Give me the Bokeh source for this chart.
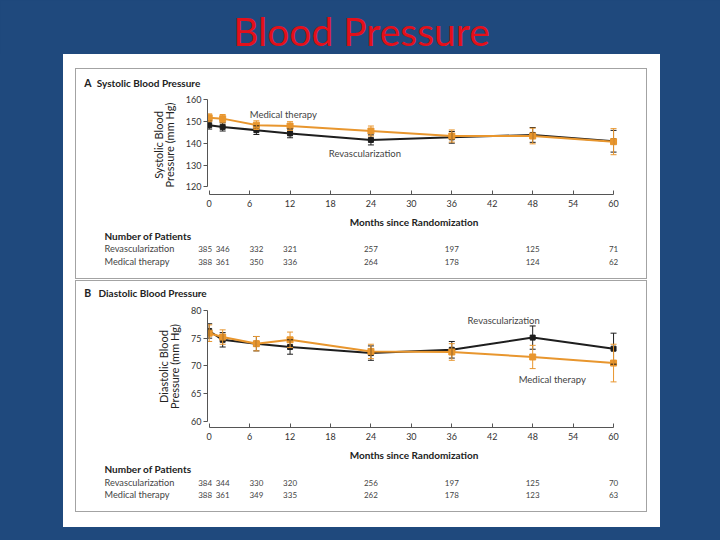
from bokeh.plotting import figure
from bokeh.models import Range1d, FixedTicker, Whisker, TeeHead, ColumnDataSource, Label
from bokeh.core.properties import value
from bokeh.layouts import column
from bokeh.embed import file_html
from bokeh.resources import INLINE

# ---------------- data ----------------
months = [0, 2, 7, 12, 24, 36, 48, 60]
x_ticks = [0, 6, 12, 18, 24, 30, 36, 42, 48, 54, 60]

sys_revasc = [148.4, 147.6, 146.1, 144.6, 141.6, 142.8, 143.9, 141.0]
sys_revasc_ci = [1.8, 1.9, 2.0, 2.0, 2.3, 2.7, 3.4, 5.0]
sys_medical = [151.8, 151.4, 148.4, 148.0, 145.7, 143.4, 143.4, 140.8]
sys_medical_ci = [1.8, 1.9, 2.0, 2.0, 2.3, 2.8, 3.6, 6.0]

dia_revasc = [76.3, 74.7, 74.0, 73.4, 72.3, 72.9, 75.1, 73.1]
dia_revasc_ci = [1.3, 1.3, 1.3, 1.3, 1.3, 1.5, 2.1, 2.8]
dia_medical = [75.9, 75.2, 74.0, 74.7, 72.6, 72.5, 71.6, 70.5]
dia_medical_ci = [1.5, 1.3, 1.3, 1.4, 1.3, 1.5, 2.1, 3.4]

sys_n_revasc = [385, 346, 332, 321, 257, 197, 125, 71]
sys_n_medical = [388, 361, 350, 336, 264, 178, 124, 62]
dia_n_revasc = [384, 344, 330, 320, 256, 197, 125, 70]
dia_n_medical = [388, 361, 349, 335, 262, 178, 123, 63]

sys_ticks = [120, 130, 140, 150, 160]
dia_ticks = [60, 65, 70, 75, 80]

# ---------------- style ----------------
BLUE = "#1f497d"
RED = "#e3101a"
ORANGE = "#e8962e"
BLACK = "#1e1e1e"
GRAY_BOX = "#a3a3a3"
TXT = "#333333"
FONT = "Lato"

INNER_W = 570          # inner width of the grey panel boxes
X_START, X_END = -0.25, 61.03
FRAME_L, FRAME_R = 131, 26   # chart frame borders inside the box
PX_PER_MONTH = (INNER_W - FRAME_L - FRAME_R) / (X_END - X_START)
COUNT_SHIFT = [-4, 0, 0, 0, 0, 0, 0, 0]   # pixel nudge of the table columns

BOX_STYLE = {"background-color": "white",
             "outline": "1px solid " + GRAY_BOX, "outline-offset": "-1px"}


def blank(width, height, xr, yr, fill, margin):
    p = figure(width=width, height=height, output_backend="svg", toolbar_location=None,
               x_range=xr, y_range=yr, x_axis_type=None, y_axis_type=None,
               min_border=0, margin=margin)
    p.border_fill_color = fill
    p.background_fill_color = fill
    p.outline_line_color = None
    p.grid.visible = False
    return p


def header(height, letter, title, y, title_x):
    p = blank(INNER_W, height, Range1d(0, INNER_W), Range1d(height, 0), "white", (1, 1, 0, 1))
    p.text(x=[7.7], y=[y], text=[letter], text_baseline="middle", text_font=value(FONT),
           text_font_style="bold", text_font_size="10.5px", text_color="#222222")
    p.text(x=[title_x], y=[y], text=[title], text_baseline="middle", text_font=value(FONT),
           text_font_style="bold", text_font_size="10px", text_color="#222222")
    return p


def chart(height, bottom, y_start, y_end, y_ticks, ylabel, revasc, revasc_ci, medical,
          medical_ci, rev_lbl, med_lbl):
    p = figure(width=INNER_W, height=height, output_backend="svg", toolbar_location=None,
               x_range=Range1d(X_START, X_END), y_range=Range1d(y_start, y_end),
               min_border_left=FRAME_L, min_border_right=FRAME_R,
               min_border_top=5, min_border_bottom=bottom, margin=(0, 1, 0, 1))
    p.border_fill_color = "white"
    p.background_fill_color = "white"
    p.outline_line_color = None
    p.xgrid.visible = False
    p.ygrid.visible = False

    xa = p.xaxis[0]
    xa.ticker = FixedTicker(ticks=x_ticks)
    xa.bounds = (0, 60)
    xa.major_tick_in = 4
    xa.major_tick_out = 0
    xa.minor_tick_line_color = None
    xa.axis_line_color = "#555555"
    xa.major_tick_line_color = "#555555"
    xa.major_label_text_font = FONT
    xa.major_label_text_font_size = "9px"
    xa.major_label_text_color = TXT
    xa.major_label_standoff = 5
    xa.axis_label = "Months since Randomization"
    xa.axis_label_text_font = FONT
    xa.axis_label_text_font_style = "bold"
    xa.axis_label_text_font_size = "10px"
    xa.axis_label_text_color = "#222222"
    xa.axis_label_standoff = 6

    ya = p.yaxis[0]
    ya.ticker = FixedTicker(ticks=y_ticks)
    ya.bounds = (y_ticks[0], y_ticks[-1])
    ya.major_tick_in = 0
    ya.major_tick_out = 4
    ya.minor_tick_line_color = None
    ya.axis_line_color = "#555555"
    ya.major_tick_line_color = "#555555"
    ya.major_label_text_font = FONT
    ya.major_label_text_font_size = "9px"
    ya.major_label_text_color = TXT
    ya.major_label_standoff = 2
    ya.axis_label = ylabel
    ya.axis_label_text_font = FONT
    ya.axis_label_text_font_style = "normal"
    ya.axis_label_text_font_size = "11px"
    ya.axis_label_text_color = "#222222"
    ya.axis_label_text_line_height = 0.85
    ya.axis_label_standoff = 7

    for vals, ci, col in ((revasc, revasc_ci, BLACK), (medical, medical_ci, ORANGE)):
        src = ColumnDataSource(dict(x=months,
                                    upper=[v + c for v, c in zip(vals, ci)],
                                    lower=[v - c for v, c in zip(vals, ci)]))
        p.add_layout(Whisker(source=src, base="x", upper="upper", lower="lower",
                             line_color=col, line_width=1, level="glyph",
                             upper_head=TeeHead(size=6, line_color=col, line_width=1),
                             lower_head=TeeHead(size=6, line_color=col, line_width=1)))

    p.line(months, revasc, line_color=BLACK, line_width=2)
    p.scatter(months, revasc, marker="square", size=5, fill_color=BLACK, line_color=BLACK)
    p.line(months, medical, line_color=ORANGE, line_width=2)
    p.scatter(months, medical, marker="square", size=6, fill_color=ORANGE, line_color=ORANGE)

    for (lx, ly), txt in ((rev_lbl, "Revascularization"), (med_lbl, "Medical therapy")):
        p.add_layout(Label(x=lx, y=ly, text=txt, text_align="center", text_baseline="middle",
                           text_font=FONT, text_font_size="9.5px", text_color="#444444"))
    # wrapped so that the box column does not align its frame with header / table frames
    return column(p, spacing=0)


def table(height, rows_y, n_revasc, n_medical):
    t_start = X_START - FRAME_L / PX_PER_MONTH
    t_end = X_END + FRAME_R / PX_PER_MONTH
    p = blank(INNER_W, height, Range1d(t_start, t_end), Range1d(height, 0), "white",
              (0, 1, 1, 1))
    lx = t_start + 28 / PX_PER_MONTH
    p.text(x=[lx], y=[rows_y[0]], text=["Number of Patients"], text_baseline="middle",
           text_font=value(FONT), text_font_style="bold", text_font_size="10px",
           text_color="#222222")
    p.text(x=[lx, lx], y=[rows_y[1], rows_y[2]], text=["Revascularization", "Medical therapy"],
           text_baseline="middle", text_font=value(FONT), text_font_size="9.2px",
           text_color="#444444")
    for counts, yy in ((n_revasc, rows_y[1]), (n_medical, rows_y[2])):
        src = ColumnDataSource(dict(x=months, y=[yy] * len(months),
                                    t=[str(c) for c in counts], dx=COUNT_SHIFT))
        p.text(x="x", y="y", text="t", x_offset="dx", source=src,
               text_align="center", text_baseline="middle", text_font=value(FONT),
               text_font_size="8px", text_color="#444444")
    return p


# ---------------- title ----------------
title_fig = blank(720, 54, Range1d(0, 720), Range1d(54, 0), BLUE, 0)
title_fig.text(x=[361], y=[30.5], text=["Blood Pressure"], text_align="center",
               text_baseline="middle", text_font=value("Lato"), text_font_size="39px",
               text_color=RED)

# ---------------- panel A ----------------
hA = header(21, "A", "Systolic Blood Pressure", 13.3, 20.3)
cA = chart(140, 35, 116.49, 162.05, sys_ticks, "Systolic Blood\nPressure (mm Hg)",
           sys_revasc, sys_revasc_ci, sys_medical, sys_medical_ci,
           rev_lbl=(23.1, 135.2), med_lbl=(11.0, 153.4))
tA = table(48, (5.5, 18, 31), sys_n_revasc, sys_n_medical)
boxA = column(hA, cA, tA, spacing=0, styles=BOX_STYLE, margin=(14, 13, 0, 12))

# ---------------- panel B ----------------
hB = header(19, "B", "Diastolic Blood Pressure", 11.3, 22)
cB = chart(163, 36, 58.86, 80.9, dia_ticks, "Diastolic Blood\nPressure (mm Hg)",
           dia_revasc, dia_revasc_ci, dia_medical, dia_medical_ci,
           rev_lbl=(43.7, 78.2), med_lbl=(50.9, 67.5))
tB = table(48, (5, 19, 31), dia_n_revasc, dia_n_medical)
boxB = column(hB, cB, tB, spacing=0, styles=BOX_STYLE, margin=(1, 13, 15, 12))

white_area = column(boxA, boxB, spacing=0, styles={"background-color": "white"},
                    margin=(0, 60, 13, 63))
page = column(title_fig, white_area, spacing=0, styles={"background-color": BLUE})

open("out.html", "w").write(file_html(page, INLINE))
